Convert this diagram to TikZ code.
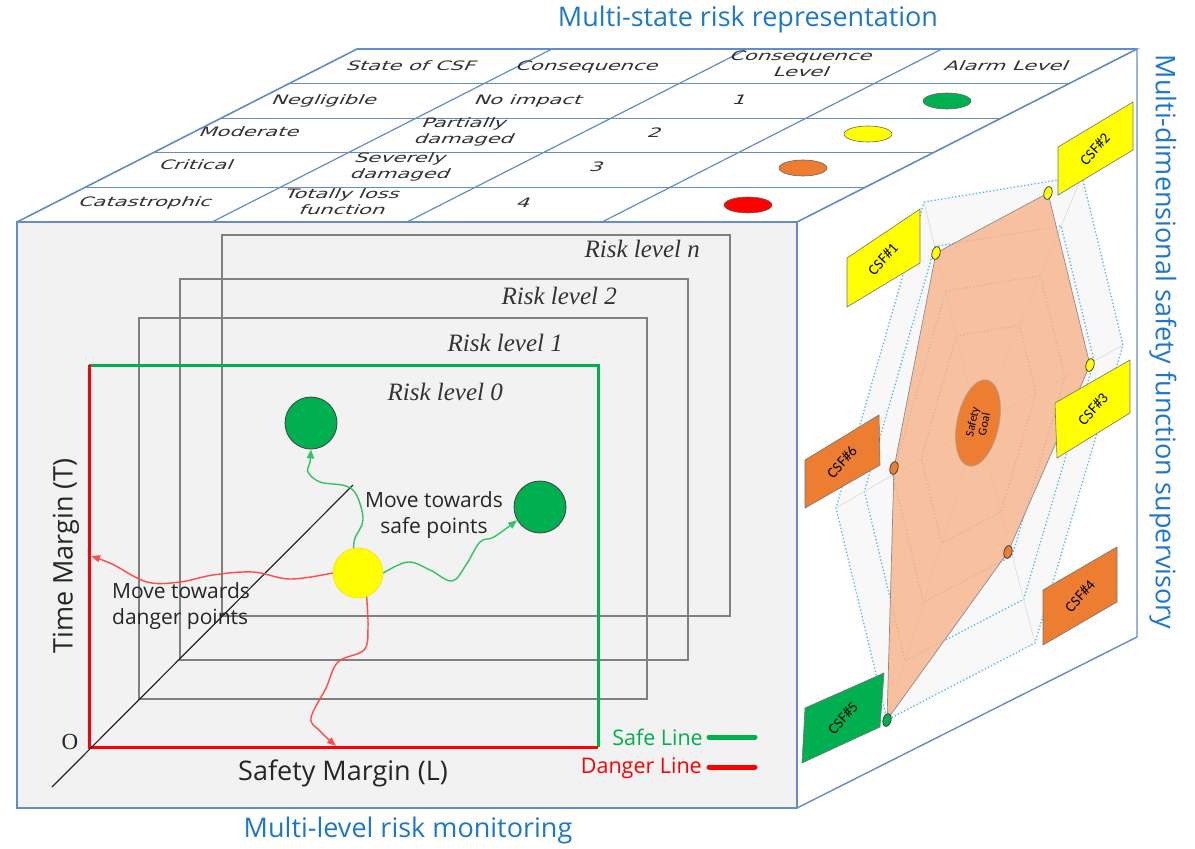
\documentclass[tikz,border=0pt]{standalone}
\usepackage{fontspec}
\usepackage{graphicx}
\setmainfont{Liberation Serif}
\newfontfamily\uifont{Open Sans}
\newfontfamily\tabfont{DejaVu Sans}[FakeSlant=0.3]
\newfontfamily\csffont{Carlito}
\usetikzlibrary{arrows.meta,calc,shapes.geometric}

\definecolor{edgeblue}{RGB}{100,140,200}
\definecolor{titleblue}{RGB}{30,120,200}
\definecolor{facegray}{RGB}{242,242,242}
\definecolor{okgreen}{RGB}{0,176,80}
\definecolor{arrowgreen}{RGB}{50,195,100}
\definecolor{arrowred}{RGB}{255,75,75}
\definecolor{csfyellow}{RGB}{255,255,0}
\definecolor{csforange}{RGB}{237,125,49}
\definecolor{polyfill}{RGB}{247,180,140}
\definecolor{hexblue}{RGB}{80,185,235}
\definecolor{hexbg}{RGB}{248,248,248}
\definecolor{tabtextcol}{RGB}{50,50,50}

% text lying on the top face: slanted and flattened
\newcommand{\tcell}[1]{\scalebox{1}[0.62]{\begin{tabular}{@{}c@{}}#1\end{tabular}}}

\begin{document}
\begin{tikzpicture}[x=1pt,y=-1pt,
  cubeedge/.style={draw=edgeblue,line width=1.4pt},
  tabline/.style={draw=edgeblue,line width=1.2pt},
  tabtext/.style={font=\tabfont\fontsize{21}{26}\selectfont,text=tabtextcol,inner sep=0pt},
  alarm/.style={ellipse,draw=black!60,line width=0.6pt,minimum width=48pt,minimum height=16pt,inner sep=0pt},
  facetitle/.style={font=\uifont\fontsize{27}{30}\selectfont,text=titleblue},
  risklabel/.style={font=\itshape\fontsize{25}{28}\selectfont,text=black!80,anchor=east,inner sep=0pt},
  levelbox/.style={draw=black!50,line width=2pt},
  safeline/.style={draw=okgreen,line width=3pt},
  dangerline/.style={draw=red,line width=3pt},
  ballgreen/.style={circle,fill=okgreen,draw=black!75,line width=0.8pt,minimum size=52pt,inner sep=0pt},
  ballyellow/.style={circle,fill=csfyellow,draw=yellow!80!orange,line width=0.6pt,minimum size=50pt,inner sep=0pt},
  garrow/.style={draw=arrowgreen,line width=1.4pt,-{Triangle[length=9pt,width=7pt]}},
  rarrow/.style={draw=arrowred,line width=1.4pt,-{Triangle[length=9pt,width=7pt]}},
  movetext/.style={font=\uifont\fontsize{21}{26}\selectfont,text=black!85,align=center,inner sep=0pt},
  axislabel/.style={font=\uifont\fontsize{27}{30}\selectfont,text=black!85,inner sep=0pt},
  legendtext/.style={font=\uifont\fontsize{21.5}{24}\selectfont,anchor=east,inner sep=0pt},
  legendline/.style={line width=5pt,line cap=round},
  hexgrid/.style={draw=hexblue,line width=1.3pt,dash pattern=on 1.3pt off 2.2pt},
  csfbox/.style={draw=black!55,line width=0.6pt},
  csflabel/.style={font=\csffont\fontsize{15}{16}\selectfont,rotate=48,inner sep=0pt},
  dotmark/.style={ellipse,draw=black!80,line width=0.7pt,minimum width=8pt,minimum height=13pt,inner sep=0pt,rotate=-15}
]
\useasboundingbox (0,0) rectangle (1195,849);

% ---------------- cube corners ----------------
\coordinate (F1) at (17,222);
\coordinate (F2) at (797,222);
\coordinate (F3) at (797,808);
\coordinate (F4) at (17,808);
\coordinate (B1) at (357,49);
\coordinate (B2) at (1137,49);
\coordinate (B3) at (1137,637);

% ---------------- faces ----------------
\fill[white] (F1) -- (B1) -- (B2) -- (F2) -- cycle;
\fill[white] (F2) -- (B2) -- (B3) -- (F3) -- cycle;
\fill[facegray] (F1) rectangle (F3);

% ---------------- top face: state table ----------------
\foreach \k in {0,...,5}{
  \pgfmathsetmacro\yy{49+34.6*\k}
  \pgfmathsetmacro\dx{(222-\yy)*1.965}
  \draw[tabline] (17+\dx,\yy) -- (797+\dx,\yy);
}
\foreach \j in {0,...,4}{
  \draw[tabline] (17+195*\j,222) -- (357+195*\j,49);
}

\node[tabtext] (h1) at (410,67) {\tcell{State of CSF}};
\node[tabtext] (h2) at (586,67) {\tcell{Consequence}};
\node[tabtext] (h3) at (800,65) {\tcell{Consequence\\Level}};
\node[tabtext] (h4) at (1005,67) {\tcell{Alarm Level}};

\node[tabtext] (s1) at (323,101) {\tcell{Negligible}};
\node[tabtext] (c1) at (527,101) {\tcell{No impact}};
\node[tabtext] (l1) at (738,101) {\tcell{1}};
\node[alarm,fill=okgreen] (a1) at (947,101) {};

\node[tabtext] (s2) at (248,133) {\tcell{Moderate}};
\node[tabtext] (c2) at (463,132) {\tcell{Partially\\damaged}};
\node[tabtext] (l2) at (653,134) {\tcell{2}};
\node[alarm,fill=csfyellow] (a2) at (868,134) {};

\node[tabtext] (s3) at (195,166) {\tcell{Critical}};
\node[tabtext] (c3) at (399,167) {\tcell{Severely\\damaged}};
\node[tabtext] (l3) at (595,168) {\tcell{3}};
\node[alarm,fill=csforange] (a3) at (803,168) {};

\node[tabtext] (s4) at (144,203) {\tcell{Catastrophic}};
\node[tabtext] (c4) at (341,203) {\tcell{Totally loss\\function}};
\node[tabtext] (l4) at (522,204) {\tcell{4}};
\node[alarm,fill=red] (a4) at (748,205) {};

% ---------------- front face: multi-level monitoring ----------------
\draw[levelbox] (222,235) rectangle (730,616);
\draw[levelbox] (180,279) rectangle (688,660);
\draw[levelbox] (139,318) rectangle (647,699);

\coordinate (O) at (89,747);
\coordinate (Tt) at (89,365);
\coordinate (Lr) at (598,747);
\coordinate (Cr) at (598,365);
\draw[safeline] (Tt) -- (Cr) -- (Lr);
\draw[dangerline] (Tt) -- (O) -- (Lr);

\coordinate (diagA) at (52,787);
\coordinate (diagB) at (353,485);
\draw[black!85,line width=1.2pt] (diagA) -- (diagB);

\node[risklabel] (rn) at (700,249) {Risk level n};
\node[risklabel] (r2) at (617,296) {Risk level 2};
\node[risklabel] (r1) at (563,343) {Risk level 1};
\node[risklabel] (r0) at (503,392) {Risk level 0};

\node[font=\fontsize{23}{24}\selectfont,text=black!85,inner sep=0pt] (olabel) at (70,742) {O};
\node[axislabel,rotate=90] (tlabel) at (66,556) {Time Margin (T)};
\node[axislabel] (llabel) at (343,773) {Safety Margin (L)};

\node[ballgreen] (g1) at (311,423) {};
\node[ballgreen] (g2) at (540,507) {};
\node[ballyellow] (yel) at (358,573) {};

\coordinate (tleft) at (91,556);
\coordinate (bdown) at (336,746);

\draw[garrow] plot[smooth,tension=0.6] coordinates
  {(yel.100) (355,538) (363,520) (357,496) (346,486) (320,482) (308,472) (310,462) (g1.south)};
\draw[garrow] plot[smooth,tension=0.6] coordinates
  {(yel.east) (408,562) (430,570) (452,581) (466,565) (480,542) (494,537) (g2.210)};
\draw[rarrow] plot[smooth,tension=0.6] coordinates
  {(yel.west) (290,579) (253,572) (213,575) (180,582) (147,582) (112,564) (tleft)};
\draw[rarrow] plot[smooth,tension=0.6] coordinates
  {(yel.290) (368,628) (364,650) (338,662) (326,688) (311,718) (320,731) (bdown)};

\node[movetext] (safetxt) at (434,515) {Move towards\\safe points};
\node[movetext,align=left,anchor=west] (dangtxt) at (112,606) {Move towards\\danger points};

\node[legendtext,text=okgreen] (safeleg) at (703,737) {Safe Line};
\node[legendtext,text=red] (dangleg) at (702,768) {Danger Line};
\coordinate (sl1) at (709,737); \coordinate (sl2) at (755,737);
\coordinate (dl1) at (709,767); \coordinate (dl2) at (755,767);
\draw[legendline,okgreen] (sl1) -- (sl2);
\draw[legendline,red] (dl1) -- (dl2);

% ---------------- right face: safety function radar ----------------
\coordinate (C) at (978,425);
\coordinate (V1) at (924,202);
\coordinate (V2) at (1082,176);
\coordinate (V3) at (1123,345);
\coordinate (V4) at (1035,643);
\coordinate (V5) at (887,720);
\coordinate (V6) at (836,508);

\fill[hexbg] (V1) -- (V2) -- (V3) -- (V4) -- (V5) -- (V6) -- cycle;
\foreach \s in {0.4,0.6,0.8,1.0}{
  \draw[hexgrid] ($(C)!\s!(V1)$) -- ($(C)!\s!(V2)$) -- ($(C)!\s!(V3)$) -- ($(C)!\s!(V4)$)
     -- ($(C)!\s!(V5)$) -- ($(C)!\s!(V6)$) -- cycle;
}
\foreach \v in {V1,V2,V3,V4,V5,V6}{
  \draw[black!15,line width=0.6pt] (C) -- (\v);
}

\coordinate (P1) at (936,253);
\coordinate (P2) at (1048,193);
\coordinate (P3) at (1090,365);
\coordinate (P4) at (1008,552);
\coordinate (P5) at (887,720);
\coordinate (P6) at (894,468);
\fill[polyfill,fill opacity=0.82] (P1) -- (P2) -- (P3) -- (P4) -- (P5) -- (P6) -- cycle;
\draw[black!45,line width=0.7pt] (P1) -- (P2) -- (P3) -- (P4) -- (P5) -- (P6) -- cycle;

\node[ellipse,fill=csforange,draw=black!35,line width=0.6pt,minimum width=88pt,minimum height=42pt,
      inner sep=0pt,rotate=78,font=\csffont\fontsize{12}{12}\selectfont,align=center] (goal) at (978,423) {Safety\\Goal};

\node[dotmark,fill=csfyellow] (d1) at (P1) {};
\node[dotmark,fill=csfyellow] (d2) at (P2) {};
\node[dotmark,fill=csfyellow] (d3) at (P3) {};
\node[dotmark,fill=csforange] (d4) at (P4) {};
\node[dotmark,fill=okgreen] (d5) at (P5) {};
\node[dotmark,fill=csforange] (d6) at (P6) {};

% CSF boxes
\filldraw[csfbox,fill=csfyellow] (847,258) -- (920,209) -- (920,263) -- (847,307) -- cycle;
\node[csflabel] (csf1) at (883,259) {CSF\#1};
\filldraw[csfbox,fill=csfyellow] (1058,147) -- (1133,102) -- (1133,150) -- (1058,195) -- cycle;
\node[csflabel] (csf2) at (1095,149) {CSF\#2};
\filldraw[csfbox,fill=csfyellow] (1055,403) -- (1130,360) -- (1130,413) -- (1057,458) -- cycle;
\node[csflabel] (csf3) at (1093,409) {CSF\#3};
\filldraw[csfbox,fill=csforange] (1043,590) -- (1117,547) -- (1117,602) -- (1043,645) -- cycle;
\node[csflabel] (csf4) at (1080,596) {CSF\#4};
\filldraw[csfbox,fill=okgreen] (805,708) -- (884,673) -- (880,727) -- (802,763) -- cycle;
\node[csflabel] (csf5) at (843,718) {CSF\#5};
\filldraw[csfbox,fill=csforange] (805,460) -- (879,415) -- (880,465) -- (805,508) -- cycle;
\node[csflabel] (csf6) at (842,462) {CSF\#6};

% ---------------- cube edges ----------------
\draw[cubeedge] (F1) rectangle (F3);
\draw[cubeedge] (F1) -- (B1) -- (B2) -- (F2);
\draw[cubeedge] (B2) -- (B3) -- (F3);

% ---------------- face titles ----------------
\node[facetitle] (toptitle) at (748,19) {Multi-state risk representation};
\node[facetitle] (bottitle) at (408,830) {Multi-level risk monitoring};
\node[facetitle,rotate=-90] (sidetitle) at (1163,342) {Multi-dimensional safety function supervisory};
\end{tikzpicture}
\end{document}
